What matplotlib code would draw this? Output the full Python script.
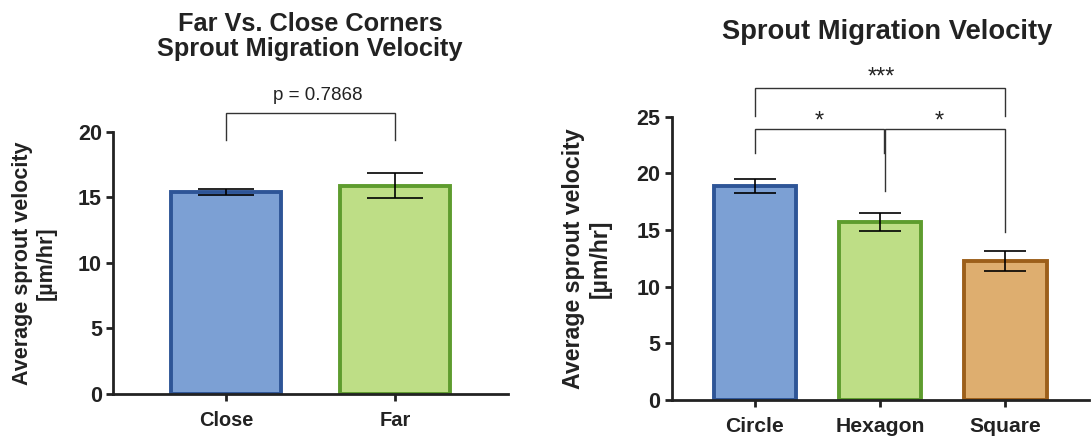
import matplotlib.pyplot as plt
import numpy as np

plt.rcParams['font.family'] = ['Liberation Sans', 'DejaVu Sans']

# left panel data
corner_labels = ['Close', 'Far']
corner_means = [15.4, 15.9]
corner_sem = [0.2, 0.95]
corner_p = 'p = 0.7868'

# right panel data
shape_labels = ['Circle', 'Hexagon', 'Square']
shape_means = [18.85, 15.7, 12.28]
shape_sem = [0.62, 0.78, 0.87]

blue_fill, blue_edge = '#7CA0D4', '#2E5597'
green_fill, green_edge = '#BEDE86', '#5E9C2E'
orange_fill, orange_edge = '#DEAE6F', '#9C5F1A'
axis_col = '#222222'
brk_col = '#333333'


def style_axes(ax, ymax, xfs, yfs, lfs):
    for s in ['top', 'right']:
        ax.spines[s].set_visible(False)
    for s in ['left', 'bottom']:
        ax.spines[s].set_linewidth(2)
        ax.spines[s].set_color(axis_col)
    ax.set_ylim(0, ymax)
    ax.set_yticks(np.arange(0, ymax + 1, 5))
    ax.tick_params(axis='both', length=5, width=2, color=axis_col)
    ax.tick_params(axis='x', labelsize=xfs, pad=7)
    ax.tick_params(axis='y', labelsize=yfs, pad=3)
    for t in ax.get_xticklabels() + ax.get_yticklabels():
        t.set_fontweight('bold')
        t.set_color('#222222')
    ax.set_ylabel('Average sprout velocity\n[µm/hr]', fontsize=lfs,
                  fontweight='bold', color='#222222', linespacing=1.2)


def bracket(ax, x1, x2, y, d1, d2):
    ax.plot([x1, x1, x2, x2], [d1, y, y, d2], color=brk_col, lw=1,
            clip_on=False, solid_joinstyle='miter')


fig = plt.figure(figsize=(10.92, 4.37), dpi=100)

# ---------------- left ----------------
ax1 = fig.add_axes([0.1035, 0.0984, 0.3617, 0.600])
x1 = np.arange(len(corner_labels))
ax1.bar(x1, corner_means, width=0.65, color=[blue_fill, green_fill],
        edgecolor=[blue_edge, green_edge], linewidth=2.8, zorder=2)
ax1.errorbar(x1, corner_means, yerr=corner_sem, fmt='none', ecolor='black',
             elinewidth=1.2, capsize=20, capthick=1.2, zorder=3)
ax1.set_xlim(-0.67, 1.67)
ax1.set_xticks(x1)
ax1.set_xticklabels(corner_labels)
style_axes(ax1, 20, 14.4, 15.5, 15.5)
ax1.yaxis.set_label_coords(-0.142, 0.5)
bracket(ax1, 0, 1, 21.4, 19.4, 19.4)
ax1.text(0.54, 22.8, corner_p, ha='center', va='center', fontsize=13.5,
         color='#222222', clip_on=False)
fig.text(0.284, 0.916, 'Far Vs. Close Corners\nSprout Migration Velocity',
         ha='center', va='center', fontsize=18.3, fontweight='bold',
         color='#222222', linespacing=1.05)

# ---------------- right ----------------
ax2 = fig.add_axes([0.615, 0.0847, 0.382, 0.6483])
x2 = np.arange(len(shape_labels))
ax2.bar(x2, shape_means, width=0.655,
        color=[blue_fill, green_fill, orange_fill],
        edgecolor=[blue_edge, green_edge, orange_edge], linewidth=2.8, zorder=2)
ax2.errorbar(x2, shape_means, yerr=shape_sem, fmt='none', ecolor='black',
             elinewidth=1.2, capsize=15, capthick=1.2, zorder=3)
ax2.set_xlim(-0.664, 2.664)
ax2.set_xticks(x2)
ax2.set_xticklabels(shape_labels)
style_axes(ax2, 25, 15.2, 15.5, 16.7)
ax2.yaxis.set_label_coords(-0.143, 0.5)
bracket(ax2, 0, 2, 27.5, 25.1, 25.1)
bracket(ax2, 0, 1.03, 23.9, 21.8, 21.8)
bracket(ax2, 1.04, 2, 23.9, 18.4, 14.85)
ax2.text(1.01, 27.9, '***', ha='center', va='baseline', fontsize=17,
         color='#222222', clip_on=False)
ax2.text(0.51, 24.0, '*', ha='center', va='baseline', fontsize=17,
         color='#222222', clip_on=False)
ax2.text(1.47, 24.0, '*', ha='center', va='baseline', fontsize=17,
         color='#222222', clip_on=False)
fig.text(0.812, 0.927, 'Sprout Migration Velocity', ha='center', va='center',
         fontsize=19.7, fontweight='bold', color='#222222')

fig.savefig('out.png', dpi=100)
